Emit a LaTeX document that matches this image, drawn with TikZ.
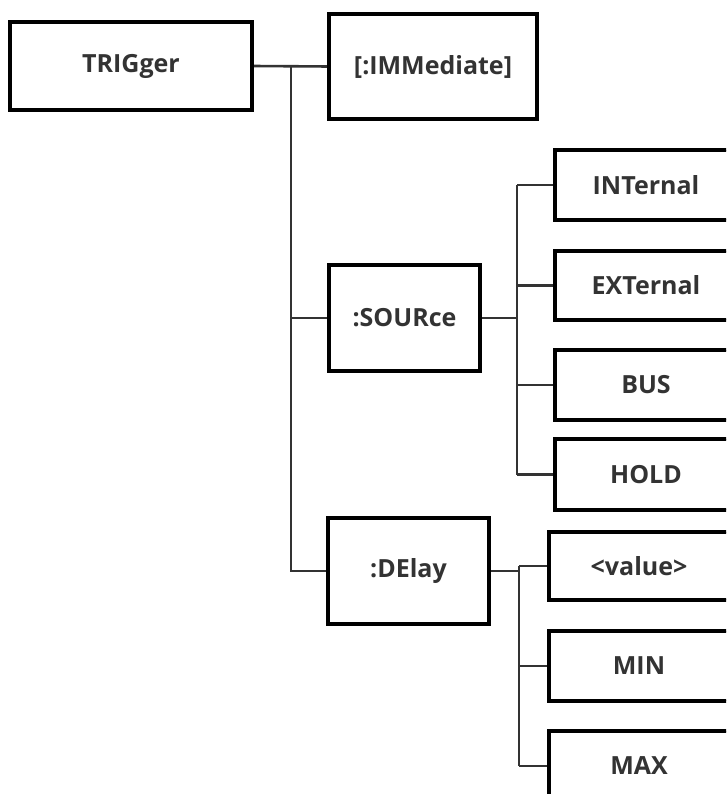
\documentclass[tikz,border=0pt]{standalone}
\usepackage{fontspec}
\setmainfont{Open Sans}
\begin{document}
\begin{tikzpicture}[x=1pt,y=-1pt,
  box/.style={draw=black,line width=2.8pt,fill=white,inner sep=0pt,
    font=\fontsize{25}{30}\selectfont\bfseries,text=black!80},
  conn/.style={draw=black!80,line width=2.6pt}]
\useasboundingbox (0,0) rectangle (726,794);
\clip (0,0) rectangle (726,794);
% nodes
\node[box,minimum width=240pt,minimum height=86pt] (trig) at (131,66) {TRIGger};
\node[box,minimum width=206pt,minimum height=103pt] (imm) at (433,66.5) {[:IMMediate]};
\node[box,minimum width=149pt,minimum height=104pt] (src) at (404.5,318) {:SOURce};
\node[box,minimum width=159pt,minimum height=104pt] (del) at (408.5,571) {:DElay};
\node[box,minimum width=180pt,minimum height=68pt] (int) at (646,185) {INTernal};
\node[box,minimum width=180pt,minimum height=67pt] (ext) at (646,285.5) {EXTernal};
\node[box,minimum width=180pt,minimum height=68pt] (bus) at (646,385) {BUS};
\node[box,minimum width=180pt,minimum height=69pt] (hold) at (646,474.5) {HOLD};
\node[box,minimum width=178pt,minimum height=66pt] (val) at (639,566) {<value>};
\node[box,minimum width=178pt,minimum height=68pt] (min) at (639,666) {MIN};
\node[box,minimum width=178pt,minimum height=68pt] (max) at (639,766) {MAX};
% junction coordinates
\coordinate (j1) at (291,66);
\coordinate (j1b) at (291,571);
\coordinate (j2) at (517,318);
\coordinate (j3) at (519,571);
% connectors
\draw[conn] (trig.east) -- (imm.west);
\draw[conn] (j1) -- (j1b) -- (del.west);
\draw[conn] (j1 |- src.west) -- (src.west);
\draw[conn] (src.east) -- (j2);
\draw[conn] (j2 |- int.west) -- (j2 |- hold.west);
\draw[conn] (j2 |- int.west) -- (int.west);
\draw[conn] (j2 |- ext.west) -- (ext.west);
\draw[conn] (j2 |- bus.west) -- (bus.west);
\draw[conn] (j2 |- hold.west) -- (hold.west);
\draw[conn] (del.east) -- (j3);
\draw[conn] (j3 |- val.west) -- (j3 |- max.west);
\draw[conn] (j3 |- val.west) -- (val.west);
\draw[conn] (j3 |- min.west) -- (min.west);
\draw[conn] (j3 |- max.west) -- (max.west);
% redraw node borders over connectors
\foreach \n in {trig,imm,src,del,int,ext,bus,hold,val,min,max}
  \draw[black,line width=2.8pt] (\n.south west) rectangle (\n.north east);
\end{tikzpicture}
\end{document}
